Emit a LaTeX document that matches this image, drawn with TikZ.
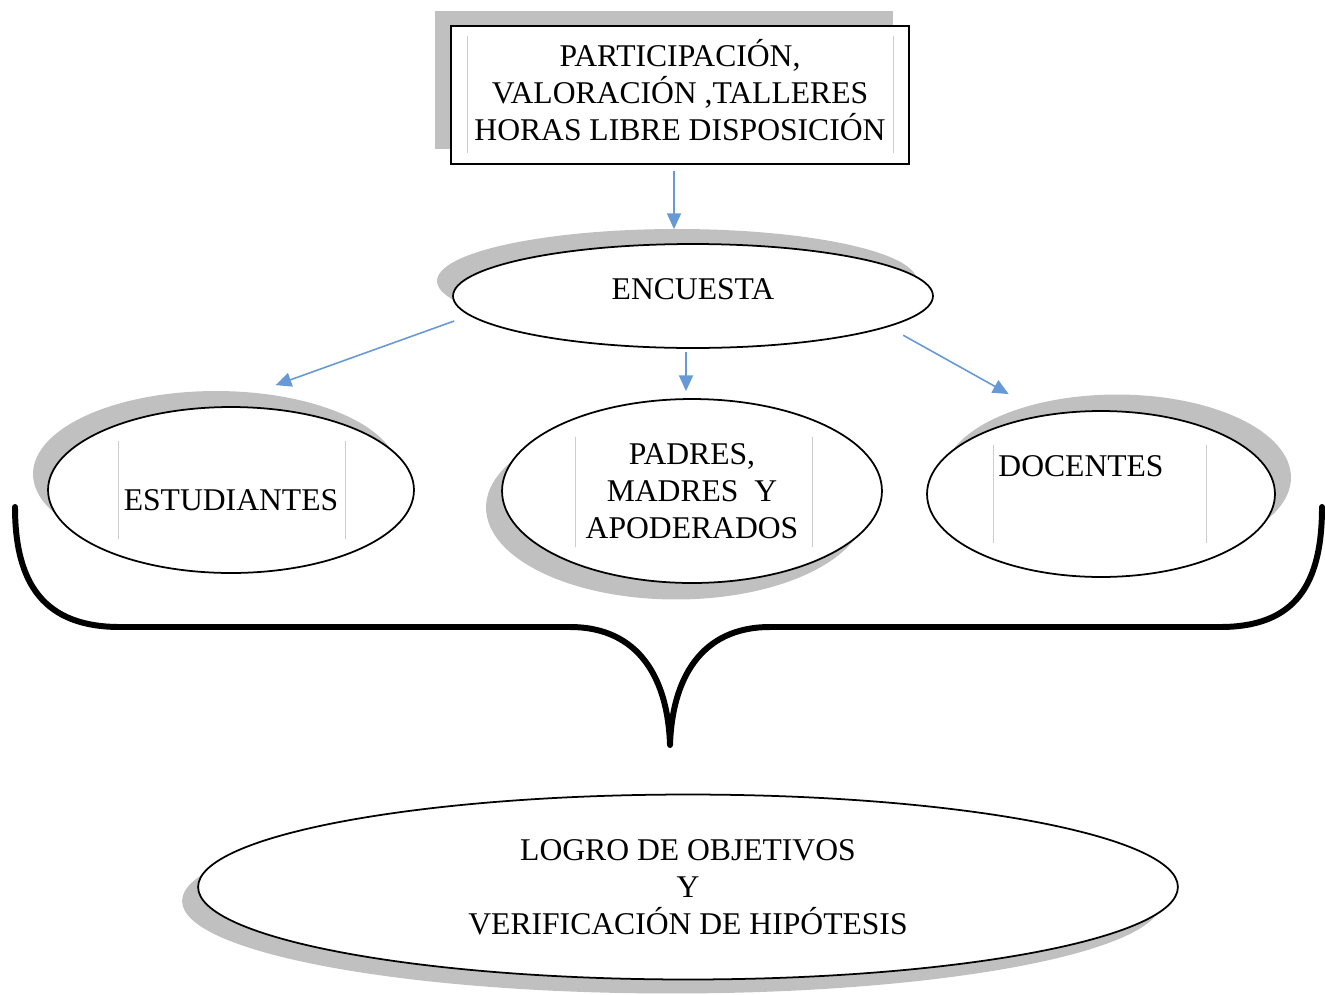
\documentclass[tikz,border=0pt]{standalone}
\usepackage{fontspec}
\setmainfont{Liberation Serif}
\usetikzlibrary{shapes.geometric,shadows,arrows.meta,calc}

\definecolor{sombra}{RGB}{192,192,192}
\definecolor{azul}{RGB}{102,153,214}
\definecolor{marcogris}{RGB}{205,205,205}

\tikzset{
  caja/.style={rectangle, draw, line width=1pt, fill=white, align=center,
    minimum width=9.16cm, minimum height=2.76cm, inner sep=0pt},
  elipse/.style={ellipse, draw, line width=1pt, fill=white, align=center, inner sep=0pt},
  flecha/.style={draw=azul, line width=0.9pt, -{Triangle[length=9pt,width=8pt]}},
  marco/.style={draw=marcogris, line width=0.5pt},
  llave/.style={line width=3.4pt, line cap=round, line join=round},
}

\begin{document}
\begin{tikzpicture}[x=0.02cm, y=-0.02cm, font=\fontsize{18}{21}\selectfont]
\useasboundingbox (0,0) rectangle (1325,994);

%% Top box with its grey shadow up and to the left
\node [caja, drop shadow={shadow xshift=-0.32cm, shadow yshift=0.3cm, fill=sombra, opacity=1}]
  (top) at (680,95) {PARTICIPACIÓN,\\VALORACIÓN ,TALLERES\\HORAS LIBRE DISPOSICIÓN\\[-15pt]\mbox{}};

%% The ellipses: shadow offsets change from one to the next
\node [elipse, minimum width=9.6cm, minimum height=2.08cm,
  drop shadow={shadow xshift=-0.32cm, shadow yshift=0.3cm, fill=sombra, opacity=1}]
  (enc) at (693,296) {ENCUESTA\\[-13.6pt]\mbox{}};
\node [elipse, minimum width=7.32cm, minimum height=3.32cm,
  drop shadow={shadow xshift=-0.3cm, shadow yshift=0.32cm, fill=sombra, opacity=1}]
  (stu) at (231,490) {\mbox{}\\[2pt]ESTUDIANTES};
\node [elipse, minimum width=7.6cm, minimum height=3.68cm,
  drop shadow={shadow xshift=-0.32cm, shadow yshift=-0.33cm, fill=sombra, opacity=1}]
  (pad) at (692,491) {PADRES,\\MADRES\ \ Y\\APODERADOS};
\node [elipse, minimum width=6.96cm, minimum height=3.32cm,
  drop shadow={shadow xshift=0.32cm, shadow yshift=0.33cm, fill=sombra, opacity=1}]
  (doc) at (1101,494) {};
\node (doctxt) at (1081,466) {DOCENTES};
\node [elipse, minimum width=19.6cm, minimum height=3.7cm,
  drop shadow={shadow xshift=-0.32cm, shadow yshift=-0.28cm, fill=sombra, opacity=1}]
  (log) at (688,887) {LOGRO DE OBJETIVOS\\Y\\VERIFICACIÓN DE HIPÓTESIS};

%% thin grey frame lines of the text boxes
\draw [marco] (467,36) -- (467,153);
\draw [marco] (893,36) -- (893,153);
\draw [marco] (118,441) -- (118,539);
\draw [marco] (345,441) -- (345,539);
\draw [marco] (575,437) -- (575,547);
\draw [marco] (812,437) -- (812,547);
\draw [marco] (993,445) -- (993,543);
\draw [marco] (1206,445) -- (1206,543);

%% Arrows
\draw [flecha, shorten <=0.12cm, shorten >=0.28cm]
  ([xshift=-0.12cm]top.south) -- ([xshift=-0.12cm]top.south |- enc.north);
\draw [flecha, shorten <=0.32cm, shorten >=1.26cm] (enc.185) -- (stu.100);
\draw [flecha, shorten <=0.06cm, shorten >=0.14cm]
  ([xshift=-0.14cm]enc.south) -- ([xshift=-0.14cm]enc.south |- pad.north);
\draw [flecha, shorten <=0.34cm, shorten >=0.84cm] (enc.-9) -- (doc.125);

%% The big brace
\draw [llave] (15,507) .. controls (15,585) and (45,627) .. (120,627)
  -- (570,627) .. controls (640,627) and (668,680) .. (670,745)
  .. controls (672,680) and (700,627) .. (770,627)
  -- (1220,627) .. controls (1295,627) and (1322,585) .. (1322,507);
\end{tikzpicture}
\end{document}
